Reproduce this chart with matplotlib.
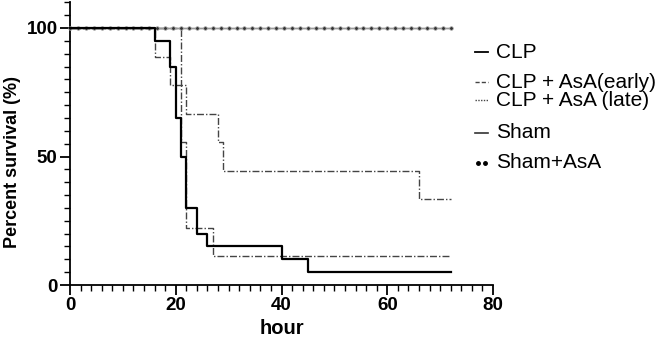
#!/usr/bin/env python3

import matplotlib
matplotlib.use("Agg")
import matplotlib.pyplot as plt
from matplotlib.lines import Line2D
from matplotlib.ticker import MultipleLocator

# Kaplan-Meier steps (hours, percent survival)
clp_t = [0, 16, 19, 20, 21, 22, 24, 26, 40, 45, 72]
clp_s = [100, 95, 85, 65, 50, 30, 20, 15, 10, 5, 5]

early_t = [0, 16, 19, 21, 22, 27, 72]
early_s = [100, 88.9, 77.8, 55.6, 22.2, 11.1, 11.1]

late_t = [0, 21, 22, 28, 29, 66, 72]
late_s = [100, 77.8, 66.7, 55.6, 44.4, 33.3, 33.3]

sham_t = [0, 72]
sham_s = [100, 100]

# observation points of the Sham+AsA group
shamasa_t = [0, 1.5, 3, 4.5, 6, 7.5, 9, 10.5, 12, 13.5, 15, 16.5, 18, 19.5,
             21, 22.5, 24, 25.5, 27, 28.5, 30, 31.5, 33, 34.5, 36, 37.5, 39,
             40.5, 42, 43.5, 45, 46.5, 48, 49.5, 51, 52.5, 54, 55.5, 57, 58.5,
             60, 61.5, 63, 64.5, 66, 67.5, 69, 70.5, 72]
shamasa_s = [100] * len(shamasa_t)

labels = ["CLP", "CLP + AsA(early)", "CLP + AsA (late)", "Sham", "Sham+AsA"]

W, H = 671, 344


def main():
    plt.rcParams["font.family"] = ["Liberation Sans", "DejaVu Sans"]
    fig = plt.figure(figsize=(W / 100, H / 100), dpi=100)
    ax = fig.add_axes([70 / W, 1 - 285 / H, (493 - 70) / W, (285 - 2.3) / H])

    grey = "#444444"
    ax.step(sham_t, sham_s, where="post", color="#555555", lw=1.0,
            clip_on=False, zorder=2)
    ax.step(shamasa_t, shamasa_s, where="post", color="#999999", lw=0.8,
            marker="o", ms=2.6, mfc="#333333", mec="#aaaaaa", mew=0.5,
            clip_on=False, zorder=3)
    ax.step(late_t, late_s, where="post", color=grey, lw=1.0,
            dashes=(5, 1.5, 1, 1.5), clip_on=False)
    ax.step(early_t, early_s, where="post", color=grey, lw=1.0,
            dashes=(5, 1.5, 1, 1.5), clip_on=False)
    ax.step(clp_t, clp_s, where="post", color="black", lw=1.6,
            clip_on=False, zorder=4)

    ax.set_xlim(0, 80)
    ax.set_ylim(0, 110)
    ax.xaxis.set_major_locator(MultipleLocator(20))
    ax.xaxis.set_minor_locator(MultipleLocator(2))
    ax.yaxis.set_minor_locator(MultipleLocator(5))
    ax.set_yticks([0, 50, 100])

    for side in ["top", "right"]:
        ax.spines[side].set_visible(False)
    for side in ["left", "bottom"]:
        ax.spines[side].set_linewidth(1.3)
    ax.tick_params(which="major", length=7, width=1.3, direction="out")
    ax.tick_params(which="minor", length=4, width=1.0, direction="out")
    ax.tick_params(axis="both", labelsize=13.5, pad=2)
    for lab in ax.get_xticklabels() + ax.get_yticklabels():
        lab.set_fontweight("bold")

    ax.set_xlabel("hour", fontsize=14.5, fontweight="bold", labelpad=3)
    ax.set_ylabel("Percent survival (%)", fontsize=13, fontweight="bold")
    ax.yaxis.set_label_coords(-0.116, 0.435)

    # hand-placed legend, rows are not evenly spaced in the original
    rows_y = [52, 82, 100, 133, 163]
    styles = [
        dict(color="black", lw=1.3),
        dict(color=grey, lw=1.0, dashes=(3, 1.5)),
        dict(color=grey, lw=1.0, dashes=(1, 1)),
        dict(color="#333333", lw=1.2),
        dict(color="black", lw=0, marker="o", ms=2.5),
    ]
    for y, lab, st in zip(rows_y, labels, styles):
        fy = 1 - y / H
        if st.get("marker"):
            fig.add_artist(Line2D([478 / W, 485 / W], [fy, fy],
                                  transform=fig.transFigure, linestyle="none",
                                  **st))
        else:
            fig.add_artist(Line2D([475 / W, 488 / W], [fy, fy],
                                  transform=fig.transFigure, **st))
        fig.text(496 / W, fy, lab, fontsize=15, va="center", ha="left")

    fig.savefig("out.png", dpi=100)


if __name__ == "__main__":
    main()
